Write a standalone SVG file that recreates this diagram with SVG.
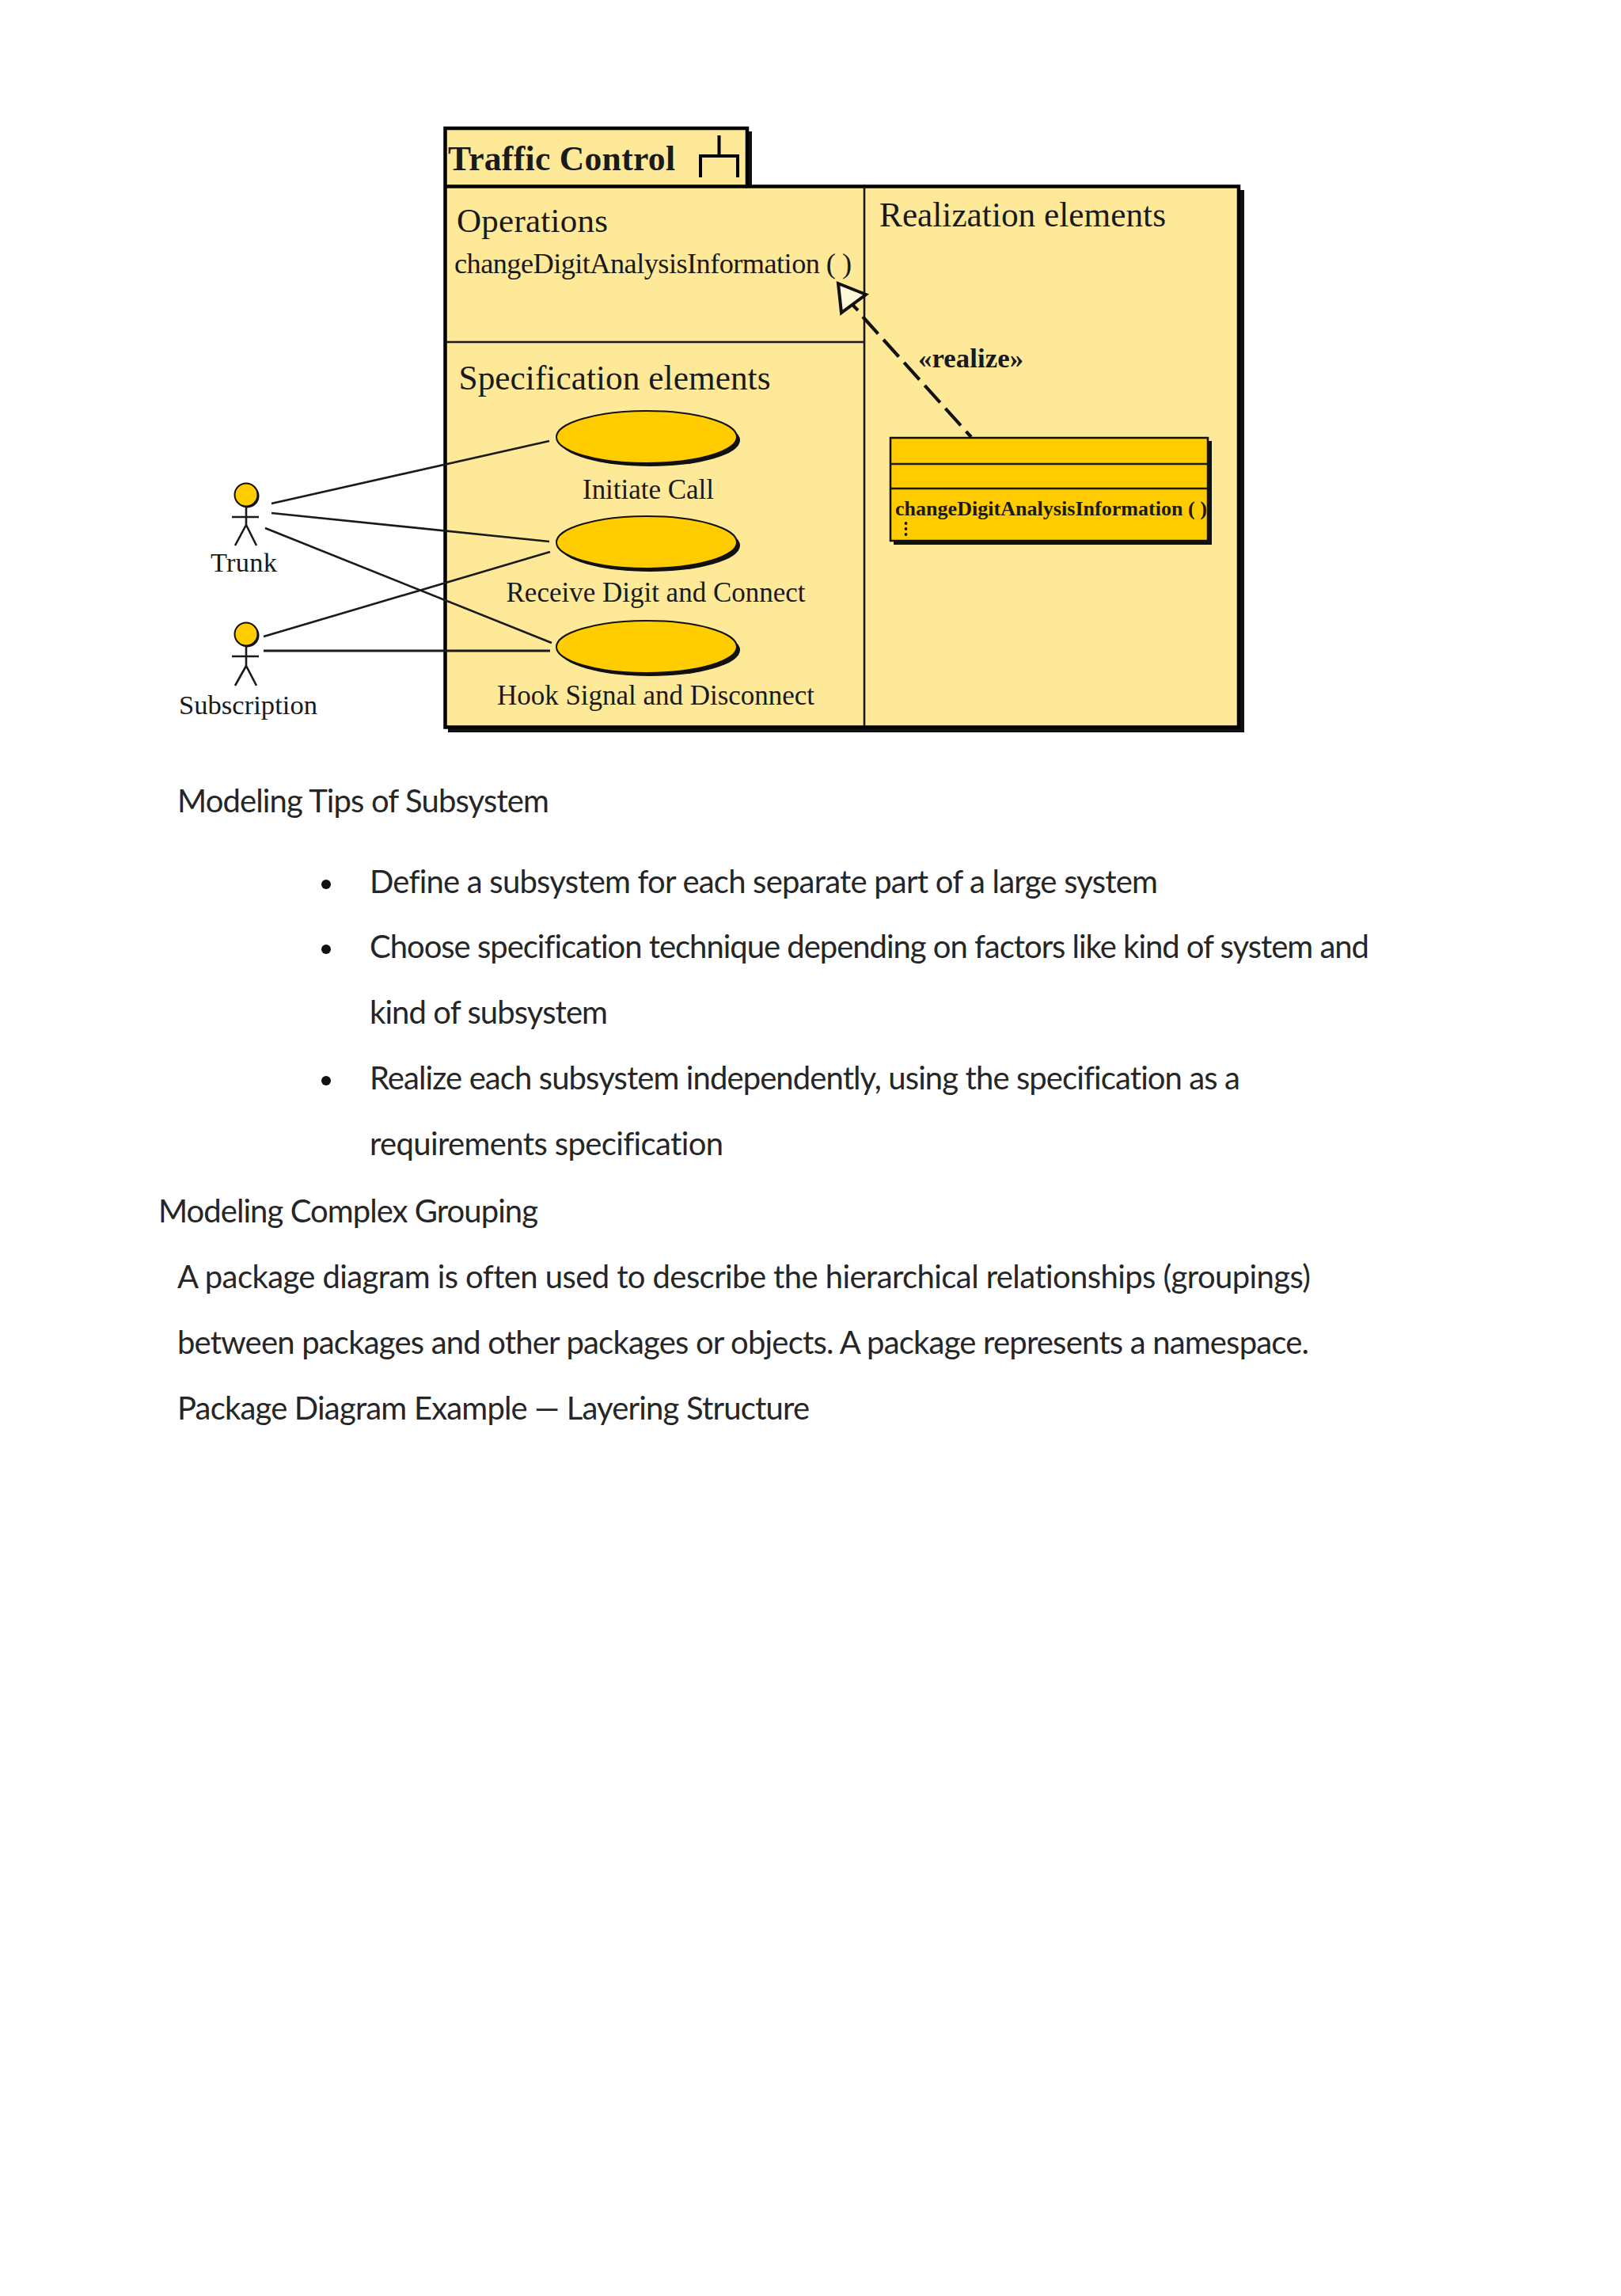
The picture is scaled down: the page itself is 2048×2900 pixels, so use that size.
<svg xmlns="http://www.w3.org/2000/svg" width="2048" height="2900" viewBox="0 0 2048 2900">
<style>
.s{font-family:"Liberation Serif","Times New Roman",serif;fill:#1a1a1a}
.b{font-family:"Lato","Noto Sans",sans-serif;font-size:40px;fill:#262626;font-variant-ligatures:none}
.l{stroke:#1a1a1a;stroke-width:2.600;fill:none}
.e{fill:#ffcc00;stroke:#111;stroke-width:2}
.h{fill:#111}
</style>
<rect width="2048" height="2900" fill="#fff"/>
<g id="subsystem">
<path class="h" d="M566 166H950V240H1572V925H566Z"/>
<path d="M562.500 162H944V235.500H1565V918.500H562.500Z" fill="#fde998" stroke="#000" stroke-width="4.500"/>
<line x1="562.500" y1="235.500" x2="944" y2="235.500" stroke="#000" stroke-width="4.500"/>
<line class="l" x1="1092" y1="236" x2="1092" y2="917"/>
<line class="l" x1="563" y1="432" x2="1092" y2="432"/>
<text class="s" x="566" y="215" font-size="43.600" font-weight="bold" fill="#000" textLength="287">Traffic Control</text>
<path d="M885 224V197H932V224M908.500 197V171" fill="none" stroke="#000" stroke-width="4"/>
<text class="s" x="577" y="293" font-size="43" textLength="191">Operations</text>
<text class="s" x="574" y="345" font-size="36.300" textLength="502">changeDigitAnalysisInformation ( )</text>
<text class="s" x="579.500" y="492" font-size="43.300" textLength="394">Specification elements</text>
<text class="s" x="1111" y="286" font-size="43.300" textLength="362">Realization elements</text>
</g>
<g id="uc-initiate">
<ellipse class="h" cx="821" cy="556" rx="114" ry="33"/>
<ellipse class="e" cx="817" cy="552" rx="114" ry="33"/>
<text class="s" x="736" y="630" font-size="35" textLength="166">Initiate Call</text>
</g>
<g id="uc-receive">
<ellipse class="h" cx="821" cy="689" rx="114" ry="33"/>
<ellipse class="e" cx="817" cy="685" rx="114" ry="33"/>
<text class="s" x="639.500" y="760" font-size="35" textLength="378">Receive Digit and Connect</text>
</g>
<g id="uc-hook">
<ellipse class="h" cx="821" cy="821" rx="114" ry="33"/>
<ellipse class="e" cx="817" cy="817" rx="114" ry="33"/>
<text class="s" x="628" y="890" font-size="35" textLength="401">Hook Signal and Disconnect</text>
</g>
<g id="class-impl">
<rect class="h" x="1129" y="557" width="402" height="131"/>
<rect x="1125" y="553" width="401" height="130" fill="#ffcc00" stroke="#111" stroke-width="2.500"/>
<line class="l" x1="1125" y1="586" x2="1526" y2="586"/>
<line class="l" x1="1125" y1="617" x2="1526" y2="617"/>
<text class="s" x="1131" y="650.500" font-size="26" font-weight="bold" textLength="394">changeDigitAnalysisInformation ( )</text>
<circle class="h" cx="1144.500" cy="661" r="1.900"/><circle class="h" cx="1144.500" cy="668" r="1.900"/><circle class="h" cx="1144.500" cy="675" r="1.900"/>
</g>
<g id="actor-trunk">
<circle class="h" cx="312.500" cy="626.500" r="15"/>
<circle cx="311" cy="625" r="14.500" fill="#ffcc00" stroke="#111" stroke-width="2"/>
<path class="l" d="M311 640V663M293 653H327M297 689L311 663L324 689"/>
<text class="s" x="266" y="722" font-size="34.400" textLength="84">Trunk</text>
</g>
<g id="actor-subscription">
<circle class="h" cx="312.500" cy="802.500" r="15"/>
<circle cx="311" cy="801" r="14.500" fill="#ffcc00" stroke="#111" stroke-width="2"/>
<path class="l" d="M311 816V841M293 829H327M297 866L311 841L324 866"/>
<text class="s" x="226" y="902" font-size="34.600" textLength="175">Subscription</text>
</g>
<g id="connectors">
<line class="l" x1="343" y1="636" x2="694" y2="557"/>
<line class="l" x1="343" y1="648" x2="694" y2="684"/>
<line class="l" x1="335" y1="667" x2="697" y2="812"/>
<line class="l" x1="333" y1="804" x2="695" y2="697"/>
<line x1="333" y1="822" x2="695" y2="822" stroke="#1a1a1a" stroke-width="3"/>
<line x1="1090" y1="400" x2="1227" y2="552" stroke="#111" stroke-width="4.200" stroke-dasharray="29 10"/>
<path d="M1059 358L1094 372L1063 395Z" fill="#fff8d8" stroke="#111" stroke-width="4"/>
<line x1="1077" y1="385" x2="1084" y2="392" stroke="#111" stroke-width="4"/>
<text class="s" x="1160" y="463.500" font-size="34.700" font-weight="bold" textLength="133">«realize»</text>
</g>
<g id="page-text">
<text class="b" x="224" y="1026" textLength="470">Modeling Tips of Subsystem</text>
<circle class="h" cx="412" cy="1117" r="6"/>
<text class="b" x="467" y="1128" textLength="996">Define a subsystem for each separate part of a large system</text>
<circle class="h" cx="412" cy="1199" r="6"/>
<text class="b" x="467" y="1210" textLength="1263">Choose specification technique depending on factors like kind of system and</text>
<text class="b" x="467" y="1293" textLength="301">kind of subsystem</text>
<circle class="h" cx="412" cy="1365" r="6"/>
<text class="b" x="467" y="1376" textLength="1100">Realize each subsystem independently, using the specification as a</text>
<text class="b" x="467" y="1459" textLength="447">requirements specification</text>
<text class="b" x="200" y="1544" textLength="480">Modeling Complex Grouping</text>
<text class="b" x="224" y="1627" textLength="1432">A package diagram is often used to describe the hierarchical relationships (groupings)</text>
<text class="b" x="224" y="1710" textLength="1430">between packages and other packages or objects. A package represents a namespace.</text>
<text class="b" x="224" y="1793" textLength="799">Package Diagram Example — Layering Structure</text>
</g>
</svg>
